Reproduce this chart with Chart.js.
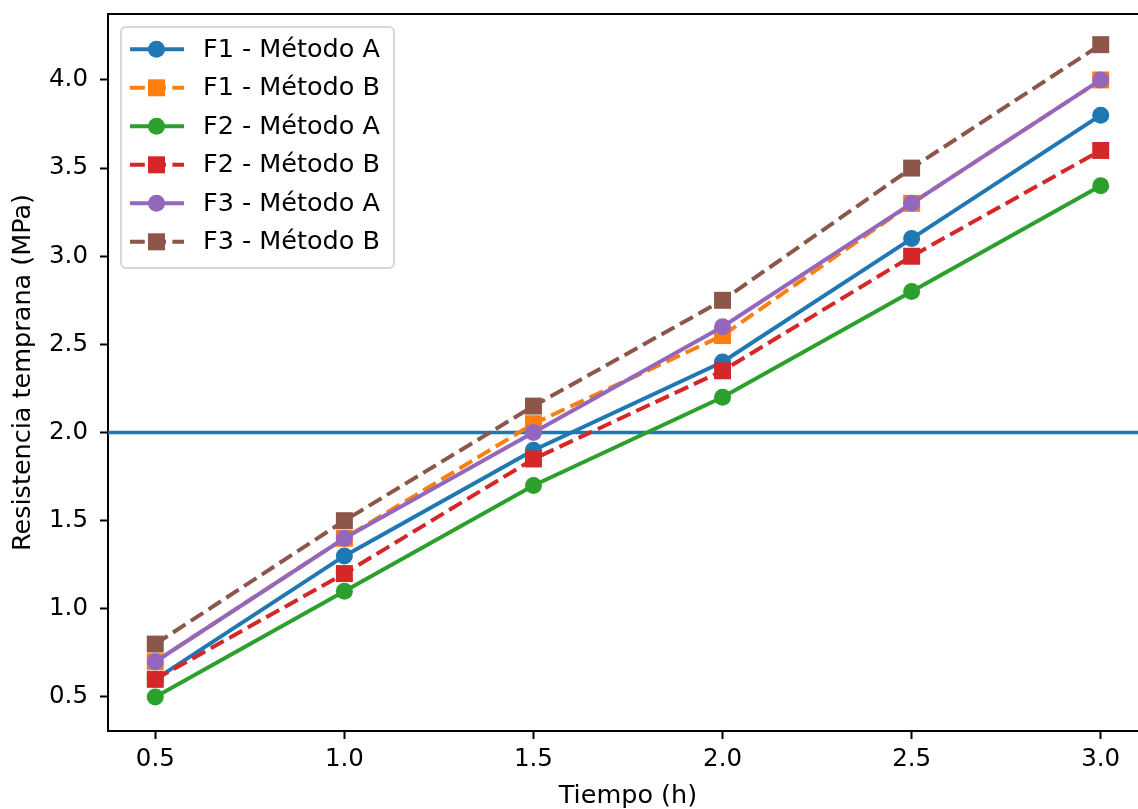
<!DOCTYPE html>
<html>
<head>
<meta charset="utf-8">
<script src="https://cdn.jsdelivr.net/npm/chart.js@4/dist/chart.umd.min.js"></script>
<style>
  html, body { margin: 0; padding: 0; background: #fff; overflow: hidden; }
  #wrap { position: absolute; left: 0; top: 0; width: 1160px; height: 809px; }
</style>
</head>
<body>
<div id="wrap"><canvas id="grafico" width="1160" height="809"></canvas></div>
<script>
// Datos
const tiempos = [0.5, 1.0, 1.5, 2.0, 2.5, 3.0];
const f1MetodoA = [0.6, 1.3, 1.9, 2.4, 3.1, 3.8];
const f1MetodoB = [0.7, 1.4, 2.05, 2.55, 3.3, 4.0];
const f2MetodoA = [0.5, 1.1, 1.7, 2.2, 2.8, 3.4];
const f2MetodoB = [0.6, 1.2, 1.85, 2.35, 3.0, 3.6];
const f3MetodoA = [0.7, 1.4, 2.0, 2.6, 3.3, 4.0];
const f3MetodoB = [0.8, 1.5, 2.15, 2.75, 3.5, 4.2];
const umbral = 2.0;

const xTicks = [0.5, 1.0, 1.5, 2.0, 2.5, 3.0];
const yTicks = [0.5, 1.0, 1.5, 2.0, 2.5, 3.0, 3.5, 4.0];
const xLimites = [0.375, 3.125];
const yLimites = [0.307, 4.374];

const FUENTE = 'DejaVu Sans';
const TAM = 24.5;      // etiquetas de los ticks
const TAM_TXT = 25.5;  // leyenda y titulos
const DASH = [14.8, 6.4];

const series = [
    { label: 'F1 - Método A', data: f1MetodoA, color: '#1f77b4', marker: 'circle', dashed: false },
    { label: 'F1 - Método B', data: f1MetodoB, color: '#ff7f0e', marker: 'rect', dashed: true },
    { label: 'F2 - Método A', data: f2MetodoA, color: '#2ca02c', marker: 'circle', dashed: false },
    { label: 'F2 - Método B', data: f2MetodoB, color: '#d62728', marker: 'rect', dashed: true },
    { label: 'F3 - Método A', data: f3MetodoA, color: '#9467bd', marker: 'circle', dashed: false },
    { label: 'F3 - Método B', data: f3MetodoB, color: '#8c564b', marker: 'rect', dashed: true }
];

const datasets = series.map((s, i) => ({
    label: s.label,
    data: tiempos.map((t, k) => ({ x: t, y: s.data[k] })),
    borderColor: s.color,
    backgroundColor: s.color,
    borderWidth: 4,
    borderDash: s.dashed ? DASH : [],
    pointStyle: s.marker,
    pointRadius: s.marker === 'rect' ? 12 : 8.5,
    pointBackgroundColor: s.color,
    pointBorderWidth: 0,
    tension: 0,
    order: series.length - i
}));

// linea horizontal en y = 2.0
datasets.push({
    label: 'umbral',
    data: [{ x: xLimites[0], y: umbral }, { x: xLimites[1], y: umbral }],
    borderColor: '#1f77b4',
    borderWidth: 3.5,
    pointRadius: 0,
    order: 20
});

// Marco (spines arriba y derecha) y leyenda dibujada a mano
const marcoYLeyenda = {
    id: 'marcoYLeyenda',
    afterDraw(chart) {
        const ctx = chart.ctx;
        const a = chart.chartArea;
        ctx.save();
        ctx.strokeStyle = '#000';
        ctx.lineWidth = 2;
        ctx.beginPath();
        ctx.moveTo(a.left - 1, a.top);
        ctx.lineTo(a.right, a.top);
        ctx.lineTo(a.right, a.bottom);
        ctx.stroke();

        // caja de la leyenda
        const bx = 121, by = 27, bw = 273, bh = 241, r = 5;
        ctx.beginPath();
        ctx.moveTo(bx + r, by);
        ctx.arcTo(bx + bw, by, bx + bw, by + bh, r);
        ctx.arcTo(bx + bw, by + bh, bx, by + bh, r);
        ctx.arcTo(bx, by + bh, bx, by, r);
        ctx.arcTo(bx, by, bx + bw, by, r);
        ctx.closePath();
        ctx.fillStyle = 'rgba(255,255,255,0.8)';
        ctx.fill();
        ctx.strokeStyle = 'rgba(204,204,204,0.8)';
        ctx.lineWidth = 2;
        ctx.stroke();

        ctx.font = TAM_TXT + 'px "' + FUENTE + '"';
        ctx.textBaseline = 'middle';
        ctx.textAlign = 'left';
        series.forEach((s, i) => {
            const y = 49.3 + i * 38.5;
            ctx.strokeStyle = s.color;
            ctx.lineWidth = 4;
            ctx.setLineDash(s.dashed ? DASH : []);
            ctx.beginPath();
            ctx.moveTo(130, y);
            ctx.lineTo(184, y);
            ctx.stroke();
            ctx.setLineDash([]);
            ctx.fillStyle = s.color;
            if (s.marker === 'rect') {
                ctx.fillRect(156.5 - 8.5, y - 8.5, 17, 17);
            } else {
                ctx.beginPath();
                ctx.arc(156.5, y, 8.5, 0, Math.PI * 2);
                ctx.fill();
            }
            ctx.fillStyle = '#000';
            ctx.fillText(s.label, 203, y + 1);
        });
        ctx.restore();
    }
};

const ejeComun = {
    type: 'linear',
    border: { display: true, color: '#000', width: 2 },
    grid: { display: true, drawOnChartArea: false, drawTicks: true, tickLength: 8, tickWidth: 2, tickColor: '#000' },
    ticks: {
        color: '#000',
        font: { family: FUENTE, size: TAM },
        callback: v => Number(v).toFixed(1)
    }
};

new Chart(document.getElementById('grafico'), {
    type: 'line',
    data: { datasets },
    plugins: [marcoYLeyenda],
    options: {
        responsive: false,
        animation: false,
        devicePixelRatio: 1,
        layout: { padding: { left: 0, top: 14, right: 12, bottom: 0 } },
        plugins: { legend: { display: false }, tooltip: { enabled: false } },
        scales: {
            x: {
                ...ejeComun,
                position: 'bottom',
                min: xLimites[0],
                max: xLimites[1],
                afterBuildTicks: s => { s.ticks = xTicks.map(v => ({ value: v })); },
                afterFit: s => { s.height = 78; s.paddingLeft = 0; s.paddingRight = 0; },
                ticks: { ...ejeComun.ticks, padding: 6, maxRotation: 0, autoSkip: false },
                title: {
                    display: true,
                    text: 'Tiempo (h)',
                    color: '#000',
                    font: { family: FUENTE, size: TAM_TXT, lineHeight: 1.0 },
                    padding: { top: 0, bottom: 0 }
                }
            },
            y: {
                ...ejeComun,
                position: 'left',
                min: yLimites[0],
                max: yLimites[1],
                afterBuildTicks: s => { s.ticks = yTicks.map(v => ({ value: v })); },
                afterFit: s => { s.width = 108; s.paddingTop = 0; s.paddingBottom = 0; },
                ticks: { ...ejeComun.ticks, padding: 12 },
                title: {
                    display: true,
                    text: 'Resistencia temprana (MPa)',
                    color: '#000',
                    font: { family: FUENTE, size: TAM_TXT, lineHeight: 1.2 },
                    padding: { top: 8, bottom: 0 }
                }
            }
        }
    }
});
</script>
</body>
</html>
